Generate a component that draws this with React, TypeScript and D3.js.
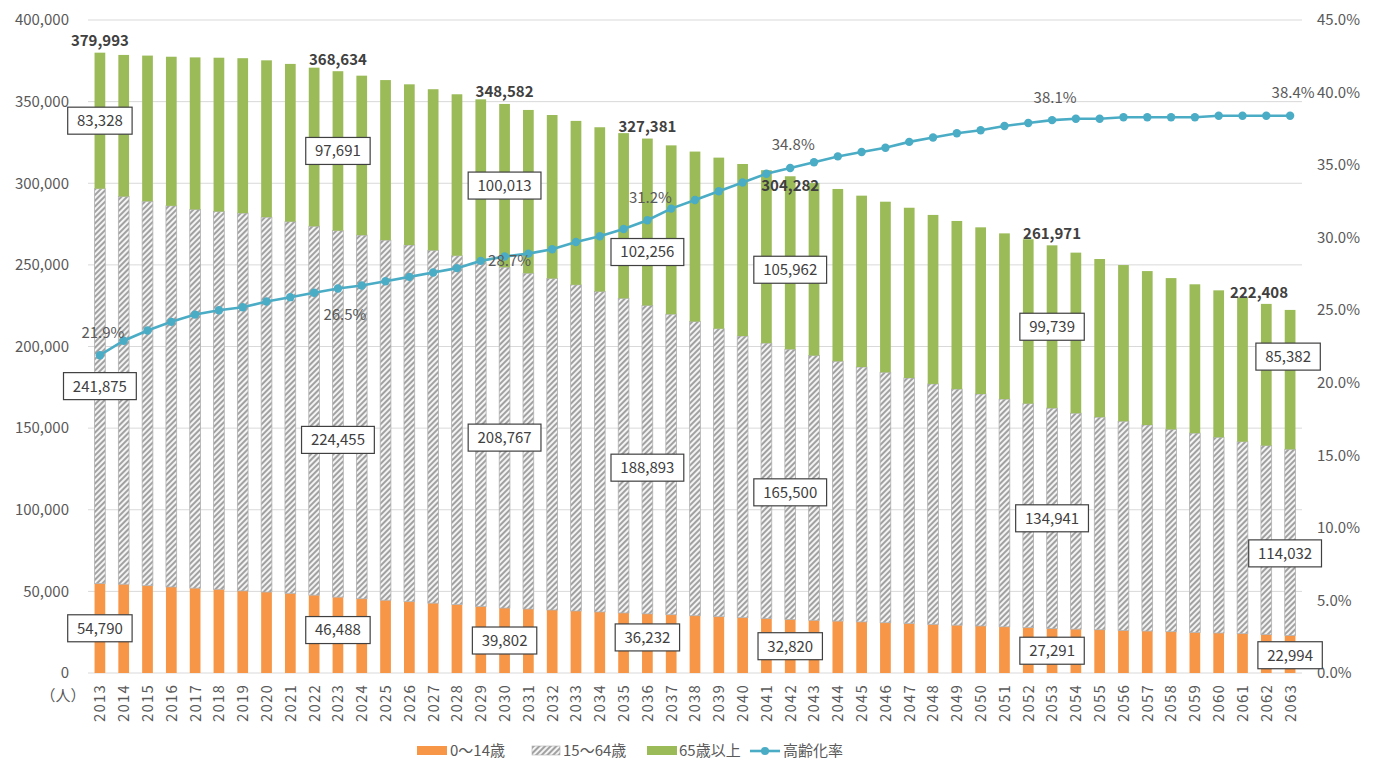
import React, { useEffect } from 'react';
import * as d3 from 'd3';

// categories (years)
const years = [
  2013, 2014, 2015, 2016, 2017, 2018, 2019, 2020, 2021, 2022,
  2023, 2024, 2025, 2026, 2027, 2028, 2029, 2030, 2031, 2032,
  2033, 2034, 2035, 2036, 2037, 2038, 2039, 2040, 2041, 2042,
  2043, 2044, 2045, 2046, 2047, 2048, 2049, 2050, 2051, 2052,
  2053, 2054, 2055, 2056, 2057, 2058, 2059, 2060, 2061, 2062, 2063,
];

// 0～14歳
const pop0to14 = [
  54790, 54400, 53500, 52700, 52000, 51300, 50300, 49600, 48800, 47700,
  46488, 45500, 44600, 43700, 42800, 41900, 40800, 39802, 39200, 38600,
  38000, 37400, 36800, 36232, 35700, 35100, 34500, 33900, 33400, 32820,
  32300, 31800, 31300, 30800, 30300, 29800, 29300, 28800, 28300, 27800,
  27291, 26900, 26500, 26100, 25700, 25300, 24900, 24500, 24100, 23500, 22994,
];

// 15～64歳
const pop15to64 = [
  241875, 237500, 235440, 233450, 231960, 231370, 231400, 229620, 227670, 225950,
  224455, 222700, 220540, 218460, 216100, 213700, 210800, 208767, 205680, 203050,
  199750, 196280, 192710, 188893, 184080, 180180, 176390, 172510, 168650, 165500,
  162160, 159150, 156130, 153390, 150390, 147260, 144590, 142100, 139470, 137200,
  134941, 132230, 130220, 128090, 126210, 123950, 122010, 119890, 117580, 115780, 114032,
];

// 65歳以上
const pop65plus = [
  83328, 86700, 89260, 91350, 93140, 94230, 94900, 96080, 96630, 97150,
  97691, 97700, 98060, 98440, 98700, 98900, 99800, 100013, 100020, 100150,
  100450, 100620, 101190, 102256, 103420, 104120, 104810, 105390, 105950, 105962,
  105640, 105550, 104970, 104510, 104310, 103540, 103010, 102100, 101530, 100700,
  99739, 98370, 96880, 95710, 94290, 92650, 91190, 90010, 88320, 86820, 85382,
];

// 高齢化率 (%)
const agingRate = [
  21.9, 22.9, 23.6, 24.2, 24.7, 25.0, 25.2, 25.6, 25.9, 26.2,
  26.5, 26.7, 27.0, 27.3, 27.6, 27.9, 28.4, 28.7, 28.9, 29.2,
  29.7, 30.1, 30.6, 31.2, 32.0, 32.6, 33.2, 33.8, 34.4, 34.8,
  35.2, 35.6, 35.9, 36.2, 36.6, 36.9, 37.2, 37.4, 37.7, 37.9,
  38.1, 38.2, 38.2, 38.3, 38.3, 38.3, 38.3, 38.4, 38.4, 38.4, 38.4,
];

// years that carry data labels
const labelYears = [2013, 2023, 2030, 2036, 2042, 2053, 2063];

const leftTicks = [0, 50000, 100000, 150000, 200000, 250000, 300000, 350000, 400000];
const rightTicks = [0, 5, 10, 15, 20, 25, 30, 35, 40, 45];

const legendNames = ['0～14歳', '15～64歳', '65歳以上', '高齢化率'];

const W = 1382;
const H = 763;
const FONT = '"Noto Sans CJK JP", "Noto Sans", sans-serif';
const ORANGE = '#f79646';
const GREEN = '#9bbb59';
const AQUA = '#4bacc6';
const TEXT = '#595959';
const DARK = '#404040';

// label nudges [dx, dy] (label placement only)
const totalNudge: Record<number, [number, number]> = { 2042: [0, 9], 2063: [-31, -17] };
const oldNudge: Record<number, [number, number]> = { 2036: [0, 30], 2042: [0, 7], 2063: [-2, -23] };
const workNudge: Record<number, [number, number]> = { 2023: [0, 26], 2036: [0, 8], 2042: [0, 8], 2063: [-5, 11] };
const childNudge: Record<number, [number, number]> = { 2023: [0, -5], 2036: [0, -6], 2063: [0, 1] };
const rateNudge: Record<number, [number, number]> = { 2023: [7, 26], 2030: [5, 4] };

const fmt = d3.format(',');

function Box({ cx, cy, text }: { cx: number; cy: number; text: string }) {
  const w = text.length * 8.4 + 14;
  const h = 27;
  return (
    <g>
      <rect x={cx - w / 2} y={cy - h / 2} width={w} height={h} fill="#fff" stroke={DARK} strokeWidth={1.2} />
      <text x={cx} y={cy} dy="0.36em" textAnchor="middle" fontSize={15} fill={DARK}>
        {text}
      </text>
    </g>
  );
}

export default function App() {
  useEffect(() => {
    document.body.style.margin = '0';
  }, []);

  const x = d3.scaleBand<number>().domain(years).range([88, 1302]).paddingInner(0.55).paddingOuter(0.275);
  const y = d3.scaleLinear().domain([0, 400000]).range([673, 20]);
  const y2 = d3.scaleLinear().domain([0, 45]).range([673, 20]);

  const rows = years.map((yr, i) => ({ year: yr, c: pop0to14[i], w: pop15to64[i], o: pop65plus[i] }));
  const series = d3.stack<any>().keys(['c', 'w', 'o'])(rows);
  const fills = [ORANGE, 'url(#hatch)', GREEN];

  const cx = (yr: number) => (x(yr) as number) + x.bandwidth() / 2;
  const line = d3
    .line<number>()
    .x((_, i) => cx(years[i]))
    .y((d) => y2(d));

  return (
    <svg width={W} height={H} style={{ display: 'block', fontFamily: FONT }}>
      <defs>
        <pattern id="hatch" patternUnits="userSpaceOnUse" width={4} height={4} patternTransform="rotate(45)">
          <rect width={4} height={4} fill="#f4f4f4" />
          <line x1={1} y1={0} x2={1} y2={4} stroke="#8c8c8c" strokeWidth={1.6} />
        </pattern>
      </defs>
      <rect width={W} height={H} fill="#fff" />

      {/* gridlines */}
      {leftTicks.map((t) => (
        <line key={t} x1={88} x2={1302} y1={y(t)} y2={y(t)} stroke="#d9d9d9" strokeWidth={1} />
      ))}

      {/* left axis */}
      {leftTicks.map((t) => (
        <text key={t} x={69} y={y(t)} dy="0.35em" textAnchor="end" fontSize={15} fill={TEXT}>
          {fmt(t)}
        </text>
      ))}
      <text x={63} y={696} dy="0.35em" textAnchor="middle" fontSize={15} fill={TEXT}>
        （人）
      </text>

      {/* right axis */}
      {rightTicks.map((t) => (
        <text key={t} x={1317} y={y2(t)} dy="0.35em" textAnchor="start" fontSize={15} fill={TEXT}>
          {t.toFixed(1)}%
        </text>
      ))}

      {/* x axis labels */}
      {years.map((yr) => (
        <text
          key={yr}
          transform={`translate(${cx(yr)},684) rotate(-90)`}
          dy="0.36em"
          textAnchor="end"
          fontSize={15}
          letterSpacing={1.2}
          fill={TEXT}
        >
          {yr}
        </text>
      ))}

      {/* stacked bars */}
      {series.map((s, si) => (
        <g key={s.key} fill={fills[si]}>
          {s.map((d: any) => (
            <rect
              key={d.data.year}
              x={x(d.data.year)}
              y={y(d[1])}
              width={x.bandwidth()}
              height={y(d[0]) - y(d[1])}
              stroke={si === 1 ? '#b0b0b0' : 'none'}
              strokeWidth={si === 1 ? 0.8 : 0}
            />
          ))}
        </g>
      ))}

      {/* aging rate line */}
      <path d={line(agingRate) as string} fill="none" stroke={AQUA} strokeWidth={2.6} />
      {agingRate.map((v, i) => (
        <circle key={years[i]} cx={cx(years[i])} cy={y2(v)} r={4.2} fill={AQUA} />
      ))}

      {/* data labels */}
      {labelYears.map((yr) => {
        const i = years.indexOf(yr);
        const c = cx(yr);
        const total = pop0to14[i] + pop15to64[i] + pop65plus[i];
        const t = totalNudge[yr] || [0, -12];
        const ob = oldNudge[yr] || [0, 0];
        const wb = workNudge[yr] || [0, 0];
        const cb = childNudge[yr] || [0, 0];
        const rn = rateNudge[yr] || [3, -23];
        const yChild = y(pop0to14[i]);
        const yWork = y(pop0to14[i] + pop15to64[i]);
        const yTop = y(total);
        return (
          <g key={yr}>
            <text x={c + t[0]} y={yTop + t[1]} dy="0.36em" textAnchor="middle" fontSize={15} fontWeight={600} fill={DARK}>
              {fmt(total)}
            </text>
            <Box cx={c + ob[0]} cy={(yTop + yWork) / 2 + ob[1]} text={fmt(pop65plus[i])} />
            <Box cx={c + wb[0]} cy={(yWork + yChild) / 2 + wb[1]} text={fmt(pop15to64[i])} />
            <Box cx={c + cb[0]} cy={(yChild + y(0)) / 2 + cb[1]} text={fmt(pop0to14[i])} />
            <text x={c + rn[0]} y={y2(agingRate[i]) + rn[1]} dy="0.36em" textAnchor="middle" fontSize={15} fill={TEXT}>
              {agingRate[i].toFixed(1)}%
            </text>
          </g>
        );
      })}

      {/* legend */}
      <g fontSize={15} fill={TEXT}>
        <rect x={417} y={746} width={30} height={9} fill={ORANGE} />
        <text x={450} y={751} dy="0.36em">{legendNames[0]}</text>
        <rect x={532} y={746} width={28} height={9} fill="url(#hatch)" stroke="#b0b0b0" strokeWidth={0.6} />
        <text x={563} y={751} dy="0.36em">{legendNames[1]}</text>
        <rect x={647} y={746} width={30} height={9} fill={GREEN} />
        <text x={679} y={751} dy="0.36em">{legendNames[2]}</text>
        <line x1={750} x2={780} y1={751} y2={751} stroke={AQUA} strokeWidth={2.6} />
        <circle cx={765} cy={751} r={4} fill={AQUA} />
        <text x={783} y={751} dy="0.36em">{legendNames[3]}</text>
      </g>
    </svg>
  );
}
